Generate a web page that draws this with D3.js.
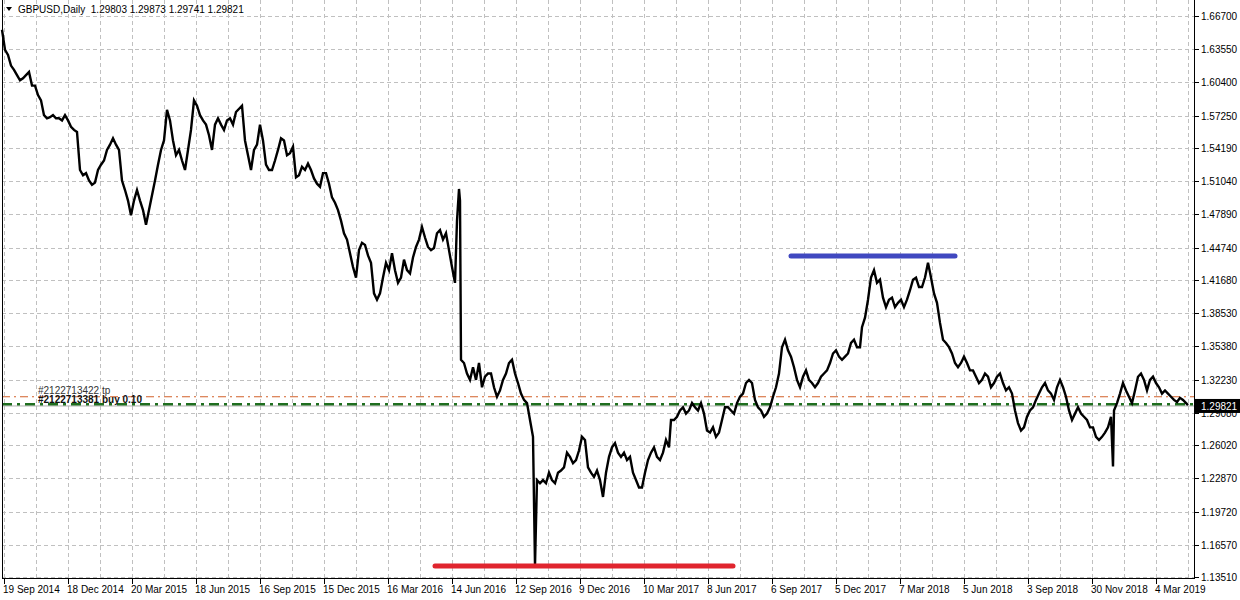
<!DOCTYPE html>
<html><head><meta charset="utf-8">
<script src="https://cdn.jsdelivr.net/npm/d3@7"></script>
<style>body{margin:0;background:#fff}svg{display:block}</style>
</head><body>
<svg id="chart" width="1240" height="600"></svg>
<script>
// bar index (one bar per trading day) and price
var bars = [2,5,8,11,14,17,20,23,26,29,32,35,38,41,44,47,50,53,56,59,62,65,68,71,74,77,80,83,86,89,92,95,98,101,104,107,110,113,116,119,122,125,128,131,134,137,140,143,146,149,152,155,158,161,164,167,170,173,176,179,182,185,188,191,194,197,200,203,206,209,212,215,218,221,224,227,230,233,236,242,245,248,251,254,257,260,263,266,269,272,275,278,281,284,287,290,293,296,299,302,305,308,311,314,317,320,323,326,329,332,335,338,341,344,347,350,353,356,359,362,365,368,371,374,377,380,383,386,389,392,395,398,401,404,407,410,413,416,419,422,425,428,431,434,437,440,443,446,449,452,455,457,459,460,461,464,467,470,473,476,479,482,485,488,491,494,497,500,503,506,509,512,515,518,521,524,527,530,533,535,537,540,543,546,549,552,555,558,561,564,567,570,573,576,579,582,585,588,591,594,597,600,603,606,609,612,615,618,621,624,627,630,633,636,639,642,645,648,651,654,657,660,663,666,669,671,674,677,680,683,686,689,692,695,698,701,704,707,710,713,716,719,722,725,728,731,734,737,740,743,746,749,752,755,758,761,764,767,770,773,776,779,782,785,788,791,794,797,800,803,806,809,812,815,818,821,824,827,830,833,836,839,842,845,848,851,854,857,860,862,865,868,871,874,877,880,883,886,889,892,895,898,901,904,907,910,913,916,919,922,925,928,931,934,937,940,943,946,949,952,955,958,961,964,967,970,973,976,979,982,985,988,991,994,997,1000,1003,1006,1009,1012,1015,1018,1021,1024,1027,1030,1033,1036,1039,1042,1045,1048,1051,1054,1057,1060,1063,1066,1069,1072,1075,1078,1081,1084,1087,1090,1093,1096,1099,1102,1105,1108,1111,1113,1114,1117,1120,1123,1126,1129,1132,1135,1138,1141,1144,1147,1150,1153,1156,1159,1162,1165,1168,1171,1174,1177,1180,1183,1188];
var closes = [1.654,1.635,1.630,1.620,1.616,1.611,1.606,1.608,1.611,1.614,1.601,1.601,1.592,1.587,1.573,1.570,1.571,1.573,1.570,1.570,1.568,1.573,1.568,1.562,1.559,1.557,1.521,1.516,1.518,1.511,1.507,1.509,1.521,1.526,1.530,1.540,1.545,1.551,1.545,1.540,1.511,1.502,1.492,1.478,1.492,1.502,1.492,1.483,1.469,1.483,1.497,1.511,1.526,1.540,1.549,1.578,1.568,1.549,1.535,1.540,1.530,1.521,1.540,1.559,1.587,1.582,1.573,1.568,1.564,1.554,1.540,1.564,1.570,1.564,1.559,1.568,1.570,1.564,1.576,1.582,1.549,1.535,1.521,1.540,1.545,1.564,1.549,1.526,1.521,1.521,1.530,1.540,1.551,1.549,1.535,1.537,1.543,1.514,1.516,1.524,1.521,1.527,1.521,1.513,1.508,1.505,1.518,1.518,1.508,1.495,1.490,1.483,1.473,1.461,1.455,1.442,1.429,1.419,1.445,1.452,1.450,1.440,1.433,1.404,1.398,1.404,1.419,1.433,1.426,1.442,1.426,1.414,1.419,1.436,1.426,1.423,1.438,1.448,1.455,1.467,1.457,1.448,1.445,1.447,1.461,1.464,1.455,1.461,1.445,1.429,1.414,1.473,1.503,1.492,1.341,1.338,1.328,1.322,1.334,1.322,1.338,1.315,1.325,1.328,1.328,1.315,1.306,1.312,1.322,1.328,1.338,1.341,1.328,1.319,1.309,1.303,1.300,1.284,1.268,1.146,1.227,1.224,1.227,1.224,1.234,1.227,1.224,1.234,1.236,1.239,1.253,1.249,1.243,1.246,1.255,1.268,1.265,1.239,1.234,1.230,1.236,1.227,1.211,1.234,1.249,1.258,1.262,1.253,1.249,1.253,1.246,1.249,1.234,1.227,1.220,1.220,1.234,1.246,1.253,1.258,1.249,1.246,1.253,1.265,1.258,1.284,1.284,1.287,1.293,1.296,1.290,1.293,1.300,1.296,1.293,1.300,1.290,1.274,1.272,1.277,1.268,1.272,1.284,1.296,1.296,1.293,1.290,1.300,1.306,1.309,1.319,1.322,1.319,1.303,1.296,1.293,1.287,1.290,1.296,1.306,1.315,1.328,1.353,1.360,1.350,1.344,1.334,1.322,1.315,1.325,1.331,1.322,1.319,1.315,1.319,1.325,1.328,1.331,1.338,1.347,1.350,1.344,1.341,1.344,1.347,1.357,1.360,1.353,1.353,1.372,1.381,1.398,1.419,1.426,1.414,1.417,1.400,1.391,1.398,1.400,1.391,1.395,1.398,1.391,1.398,1.407,1.417,1.419,1.410,1.410,1.419,1.433,1.419,1.404,1.395,1.376,1.360,1.357,1.353,1.347,1.338,1.334,1.338,1.344,1.338,1.331,1.331,1.325,1.319,1.322,1.328,1.325,1.315,1.319,1.325,1.328,1.319,1.312,1.315,1.309,1.293,1.281,1.274,1.277,1.287,1.293,1.296,1.303,1.309,1.315,1.319,1.312,1.309,1.303,1.315,1.322,1.315,1.306,1.293,1.284,1.290,1.296,1.290,1.287,1.284,1.277,1.277,1.268,1.265,1.268,1.272,1.277,1.287,1.240,1.293,1.300,1.309,1.319,1.312,1.306,1.300,1.312,1.325,1.328,1.322,1.312,1.322,1.325,1.319,1.315,1.309,1.312,1.309,1.306,1.303,1.301,1.305,1.303,1.298];

var priceTicks = [1.66700,1.63550,1.60400,1.57250,1.54190,1.51040,1.47890,1.44740,1.41680,1.38530,1.35380,1.32230,1.29080,1.26020,1.22870,1.19720,1.16570,1.13510];
var dateLabels = ["19 Sep 2014","18 Dec 2014","20 Mar 2015","18 Jun 2015","16 Sep 2015","15 Dec 2015","16 Mar 2016","14 Jun 2016","12 Sep 2016","9 Dec 2016","10 Mar 2017","8 Jun 2017","6 Sep 2017","5 Dec 2017","7 Mar 2018","5 Jun 2018","3 Sep 2018","30 Nov 2018","4 Mar 2019"];
var dateBars = [4,68,132,196,260,324,388,452,516,580,644,708,772,836,900,964,1028,1092,1156];
var gridBars = [4,36,68,100,132,164,196,228,260,292,324,356,388,420,452,484,516,548,580,612,644,676,708,740,772,804,836,868,900,932,964,996,1028,1060,1092,1124,1156,1188];

var hLines = [
  {name:"support", price:1.1455, from:435, to:733, color:"#e0252e"},
  {name:"resistance", price:1.4395, from:791, to:955, color:"#4048c0"}
];
var tpPrice = 1.3060, buyPrice = 1.2990, bid = 1.29821;

var svg = d3.select("#chart");
var x = d3.scaleLinear().domain([0,1194]).range([0,1194]);
var y = d3.scaleLinear().domain([1.1351,1.6670]).range([577,16]);
var font = "'Liberation Sans', Arial, sans-serif";

// grid
svg.append("g").selectAll("line").data(priceTicks).join("line")
  .attr("x1",2).attr("x2",1194).attr("y1",d=>Math.round(y(d))+.5).attr("y2",d=>Math.round(y(d))+.5)
  .attr("stroke","#c0c0c0").attr("stroke-dasharray","4,3");
svg.append("g").selectAll("line").data(gridBars).join("line")
  .attr("y1",0).attr("y2",578).attr("x1",d=>Math.round(x(d))+.5).attr("x2",d=>Math.round(x(d))+.5)
  .attr("stroke","#c0c0c0").attr("stroke-dasharray","4,3");

// order lines
svg.append("line").attr("x1",2).attr("x2",1194).attr("y1",y(tpPrice)).attr("y2",y(tpPrice))
  .attr("stroke","#d2602a").attr("stroke-width",1).attr("stroke-dasharray","8,4,2,4");
svg.append("line").attr("x1",2).attr("x2",1194).attr("y1",y(bid)+1).attr("y2",y(bid)+1)
  .attr("stroke","#b0b0b0").attr("stroke-width",1);
svg.append("line").attr("x1",2).attr("x2",1194).attr("y1",y(buyPrice)).attr("y2",y(buyPrice))
  .attr("stroke","#1f6e1f").attr("stroke-width",2.5).attr("stroke-dasharray","10,5,3,5");
svg.append("text").attr("x",38).attr("y",y(tpPrice)-3).attr("font-family",font).attr("font-size",10)
  .attr("fill","#333").text("#2122713422 tp");
svg.append("text").attr("x",38).attr("y",y(buyPrice)-1).attr("font-family",font).attr("font-size",10)
  .attr("font-weight","bold").attr("fill","#111").text("#2122713381 buy 0.10");

// price
svg.append("path").datum(bars.map((b,i)=>[b,closes[i]]))
  .attr("d",d3.line().x(d=>x(d[0])).y(d=>y(d[1])))
  .attr("fill","none").attr("stroke","#000").attr("stroke-width",2.4).attr("stroke-linejoin","miter");

// drawn lines
svg.append("g").selectAll("line").data(hLines).join("line")
  .attr("x1",d=>x(d.from)).attr("x2",d=>x(d.to)).attr("y1",d=>y(d.price)).attr("y2",d=>y(d.price))
  .attr("stroke",d=>d.color).attr("stroke-width",5).attr("stroke-linecap","round");

// frame and axes
svg.append("line").attr("x1",2.5).attr("x2",2.5).attr("y1",0).attr("y2",579).attr("stroke","#000");
svg.append("line").attr("x1",1194.5).attr("x2",1194.5).attr("y1",0).attr("y2",579).attr("stroke","#000");
svg.append("line").attr("x1",2).attr("x2",1195).attr("y1",578.5).attr("y2",578.5).attr("stroke","#000");

var ya = svg.append("g").attr("font-family",font).attr("font-size",10);
ya.selectAll("line").data(priceTicks).join("line")
  .attr("x1",1194).attr("x2",1199).attr("y1",d=>Math.round(y(d))+.5).attr("y2",d=>Math.round(y(d))+.5).attr("stroke","#000");
ya.selectAll("text").data(priceTicks).join("text")
  .attr("x",1201).attr("y",d=>y(d)+4).attr("fill","#000").text(d=>d.toFixed(5));

var xa = svg.append("g").attr("font-family",font).attr("font-size",10);
xa.selectAll("line").data(dateBars).join("line")
  .attr("x1",d=>Math.round(x(d))+.5).attr("x2",d=>Math.round(x(d))+.5).attr("y1",578).attr("y2",584).attr("stroke","#000");
xa.selectAll("text").data(dateLabels).join("text")
  .attr("x",(d,i)=>x(dateBars[i])-1).attr("y",593).attr("fill","#000").text(d=>d);

// bid label
svg.append("rect").attr("x",1195).attr("y",y(bid)-6).attr("width",45).attr("height",14).attr("fill","#000");
svg.append("text").attr("x",1201).attr("y",y(bid)+5).attr("font-family",font).attr("font-size",10)
  .attr("fill","#fff").text(bid.toFixed(5));

// title
svg.append("path").attr("d","M6,7L12,7L9,11Z").attr("fill","#000");
svg.append("text").attr("x",18).attr("y",13).attr("font-family",font).attr("font-size",10)
  .attr("fill","#000").attr("xml:space","preserve").text("GBPUSD,Daily  1.29803 1.29873 1.29741 1.29821");
</script>
</body></html>
